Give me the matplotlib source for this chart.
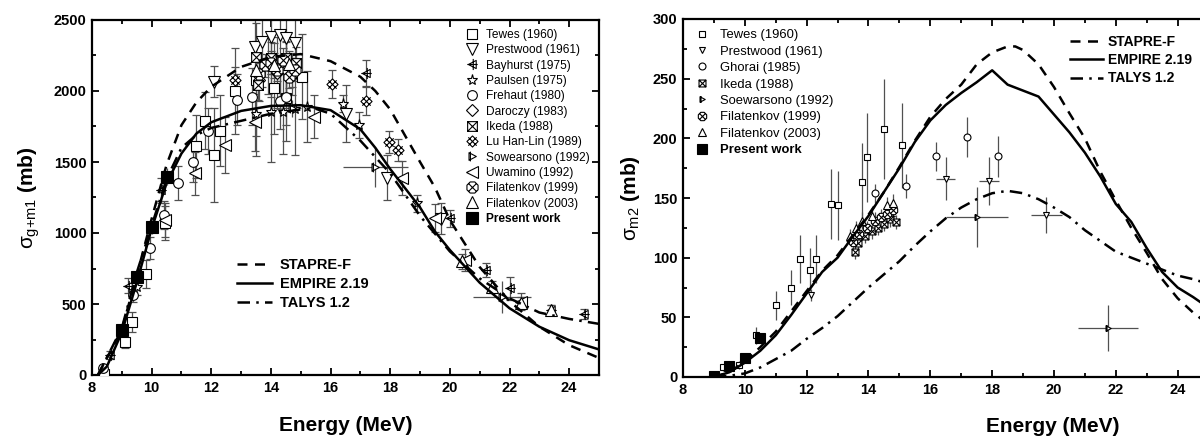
import numpy as np
import matplotlib
matplotlib.use("Agg")
import matplotlib.pyplot as plt
from matplotlib.path import Path
from matplotlib.lines import Line2D
from matplotlib.ticker import MultipleLocator

plt.rcParams['font.family'] = ['Liberation Sans', 'DejaVu Sans']
plt.rcParams['mathtext.fontset'] = 'custom'
plt.rcParams['mathtext.rm'] = 'Liberation Sans'
plt.rcParams['mathtext.it'] = 'Liberation Sans'

# ---------------- (n,2n) g+m1 cross section: model curves ----------------
gm_stapre_e = [8.2, 9.0, 9.5, 10.0, 10.5, 11.0, 11.5, 12.0, 13.0, 14.0, 15.0, 16.0, 17.0, 17.5,
               18.0, 19.0, 19.5, 20.0, 21.0, 22.0, 23.0, 24.0, 25.0]
gm_stapre_s = [0, 320, 700, 1100, 1480, 1760, 1920, 2030, 2170, 2240, 2260, 2210, 2100, 2000,
               1870, 1500, 1320, 1090, 760, 520, 340, 210, 120]
gm_empire_e = [8.2, 8.5, 9.0, 9.5, 10.0, 10.5, 11.0, 11.5, 12.0, 13.0, 14.0, 15.0, 16.0, 17.0,
               17.5, 18.0, 19.0, 19.5, 20.0, 21.0, 22.0, 23.0, 24.0, 25.0]
gm_empire_s = [0, 60, 300, 650, 1030, 1350, 1560, 1700, 1780, 1860, 1895, 1900, 1865, 1730,
               1600, 1450, 1180, 1010, 880, 650, 470, 340, 245, 180]
gm_talys_e = [8.2, 9.0, 9.5, 10.0, 10.5, 11.0, 11.5, 12.0, 13.0, 14.0, 15.0, 15.5, 16.0, 17.0,
              18.0, 19.0, 20.0, 21.0, 22.0, 23.0, 24.0, 25.0]
gm_talys_s = [0, 330, 720, 1050, 1380, 1600, 1690, 1740, 1790, 1840, 1870, 1875, 1840, 1650,
              1420, 1120, 870, 680, 540, 440, 395, 360]

# ---------------- g+m1 experimental data (E, sigma, dsigma) ----------------
tewes_e = [8.4, 9.1, 9.35, 9.8, 10.45, 11.5, 11.8, 12.1, 12.3, 12.8, 13.5, 14.1, 14.5, 15.05]
tewes_s = [5, 230, 375, 710, 1070, 1610, 1790, 1550, 1720, 2000, 2080, 2020, 1950, 2100]
tewes_d = [20, 40, 70, 100, 120, 220, 200, 330, 250, 300, 400, 320, 300, 300]

prest_e = [12.1, 13.45, 13.7, 14.0, 14.3, 14.5, 14.8, 16.5, 17.9, 19.7]
prest_s = [2065, 2310, 2345, 2380, 2395, 2370, 2335, 1840, 1390, 1100]
prest_d = [110, 200, 320, 420, 520, 400, 250, 200, 160, 110]

bayh_e = [8.6, 9.2, 10.3, 17.2, 20.0, 21.2, 22.0, 23.4, 24.5]
bayh_s = [140, 630, 1300, 2125, 1105, 740, 610, 455, 430]
bayh_d = [30, 50, 90, 90, 60, 50, 80, 35, 35]

pauls_e = [9.5, 13.5, 14.0, 14.4, 14.8, 15.2, 16.4, 16.96, 18.9]
pauls_s = [620, 1840, 1850, 1855, 1870, 1890, 1910, 1760, 1210]
pauls_d = [60, 300, 350, 300, 320, 250, 60, 90, 60]

freh_e = [8.37, 9.37, 9.95, 10.4, 10.9, 11.4, 11.9, 12.85, 13.35, 14.3, 14.5]
freh_s = [50, 563, 895, 1127, 1352, 1500, 1718, 1940, 1960, 1930, 1960]
freh_d = [20, 50, 80, 100, 120, 140, 160, 180, 200, 200, 200]

daro_e = [13.6, 13.9, 14.2, 14.5, 14.7]
daro_s = [2080, 2180, 2130, 2150, 2120]
daro_d = [150, 200, 250, 200, 150]

ikeda_e = [13.5, 13.55, 14.0, 14.5, 14.7, 14.85]
ikeda_s = [2240, 2040, 2232, 2232, 2130, 2200]
ikeda_d = [110, 100, 110, 110, 100, 110]

luhl_e = [12.8, 16.05, 17.2, 17.95, 18.25]
luhl_s = [2080, 2050, 1930, 1640, 1585]
luhl_d = [90, 100, 100, 80, 80]

soew_e = [14.7, 17.5, 21.75]
soew_s = [1880, 1465, 549]
soew_d = [60, 140, 110]
soew_de = [0.3, 1.1, 0.97]

uwam_e = [10.45, 11.45, 12.45, 13.45, 15.45, 18.4, 19.5, 20.5, 22.4]
uwam_s = [1090, 1420, 1620, 1780, 1820, 1390, 1105, 810, 515]
uwam_d = [120, 150, 200, 200, 150, 120, 100, 80, 60]

fil99_e = [13.6, 13.8, 14.0, 14.2, 14.4, 14.6, 14.8]
fil99_s = [2120, 2180, 2200, 2150, 2220, 2100, 2150]
fil99_d = [80, 80, 80, 80, 80, 80, 80]

fil03_e = [13.5, 14.1, 14.6, 20.4, 21.4, 22.4, 23.4]
fil03_s = [2150, 2180, 2190, 800, 620, 510, 460]
fil03_d = [90, 90, 90, 50, 40, 40, 30]

pres_e = [9.0, 9.5, 10.0, 10.5]
pres_s = [320, 690, 1045, 1395]
pres_d = [25, 40, 50, 60]

# ---------------- m2 cross section: model curves ----------------
m2_stapre_e = [9.0, 9.5, 10.0, 10.5, 11.0, 11.5, 12.0, 12.5, 13.0, 13.5, 14.0, 14.5, 15.0, 15.5,
               16.0, 16.5, 17.0, 17.5, 18.0, 18.5, 18.75, 19.0, 19.5, 20.0, 20.5, 21.0, 21.5,
               22.0, 22.5, 23.0, 23.5, 24.0, 24.5, 25.0, 25.5]
m2_stapre_s = [0, 4, 13, 25, 38, 55, 72, 89, 102, 119, 136, 155, 176, 198,
               218, 233, 245, 262, 272, 277, 277, 274, 262, 243, 221, 200, 172,
               148, 125, 104, 82, 66, 54, 44, 36]
m2_empire_e = [9.0, 9.5, 10.0, 10.5, 11.0, 11.5, 12.0, 12.5, 13.0, 13.5, 14.0, 14.5, 15.0, 15.5,
               16.0, 16.5, 17.0, 17.5, 18.0, 18.5, 19.0, 19.5, 20.0, 20.5, 21.0, 21.5, 22.0,
               22.5, 23.0, 23.5, 24.0, 24.5, 25.0, 25.5]
m2_empire_s = [0, 4, 12, 22, 35, 52, 70, 88, 100, 118, 135, 155, 175, 197,
               215, 228, 238, 247, 257, 245, 240, 235, 220, 205, 188, 168, 145,
               130, 108, 88, 75, 67, 58, 50]
m2_talys_e = [9.0, 9.5, 10.0, 10.5, 11.0, 11.5, 12.0, 12.5, 13.0, 13.5, 14.0, 14.5, 15.0, 15.5,
              16.0, 16.5, 17.0, 17.5, 18.0, 18.5, 19.0, 19.5, 20.0, 20.5, 21.0, 21.5, 22.0,
              22.5, 23.0, 23.5, 24.0, 24.5, 25.0, 25.5]
m2_talys_s = [0, 1, 3, 8, 15, 22, 32, 41, 51, 63, 75, 86, 97, 110,
              122, 133, 142, 149, 154, 156, 154, 149, 142, 134, 123, 114, 105,
              100, 95, 90, 85, 82, 78, 75]

# ---------------- m2 experimental data ----------------
m2_tewes_e = [9.3, 9.8, 10.35, 11.0, 11.5, 11.8, 12.1, 12.3, 12.8, 13.0, 13.8, 13.95, 14.5, 15.1]
m2_tewes_s = [8, 10, 35, 60, 75, 99, 90, 99, 145, 144, 163, 184, 208, 194]
m2_tewes_d = [3, 3, 7, 12, 15, 20, 18, 20, 29, 29, 33, 37, 42, 36]

m2_prest_e = [12.15, 16.5, 17.9, 19.75]
m2_prest_s = [69, 166, 164, 136]
m2_prest_d = [5, 18, 20, 15]
m2_prest_de = [0.0, 0.3, 0.33, 0.5]

m2_ghorai_e = [14.2, 15.2, 16.2, 17.2, 18.2]
m2_ghorai_s = [154, 160, 185, 201, 185]
m2_ghorai_d = [8, 10, 12, 17, 17]

m2_ikeda_e = [13.55, 13.65, 13.9, 14.1, 14.3, 14.5, 14.7, 14.9]
m2_ikeda_s = [105, 112, 118, 122, 125, 128, 132, 130]
m2_ikeda_d = [6, 6, 6, 6, 6, 6, 6, 6]

m2_soew_e = [14.6, 17.5, 21.75]
m2_soew_s = [135, 134, 41]
m2_soew_d = [8, 25, 19]
m2_soew_de = [0.3, 1.0, 0.97]

m2_fil99_e = [13.5, 13.7, 13.95, 14.2, 14.4, 14.6, 14.8]
m2_fil99_s = [113, 120, 125, 131, 134, 137, 140]
m2_fil99_d = [6, 6, 6, 7, 7, 7, 7]

m2_fil03_e = [13.4, 13.6, 13.8, 14.1, 14.6, 14.8]
m2_fil03_s = [118, 125, 131, 135, 144, 146]
m2_fil03_d = [6, 6, 7, 7, 7, 7]

m2_pres_e = [9.0, 9.5, 10.0, 10.5]
m2_pres_s = [1, 9, 16, 33]
m2_pres_d = [1, 1, 2, 3]


# ---------------- custom marker shapes ----------------
def compound(*parts):
    return Path.make_compound_path(*parts)


def poly(pts, closed=True):
    pts = list(pts)
    if closed:
        verts = pts + [pts[0]]
        codes = [Path.MOVETO] + [Path.LINETO] * (len(pts) - 1) + [Path.CLOSEPOLY]
    else:
        verts = pts
        codes = [Path.MOVETO] + [Path.LINETO] * (len(pts) - 1)
    return Path(verts, codes)


tri_left = poly([(0.5, 0.55), (-0.55, 0.0), (0.5, -0.55)])
tri_right = poly([(-0.5, 0.55), (0.55, 0.0), (-0.5, -0.55)])
mk_bayhurst = compound(tri_left, poly([(0.1, 0.75), (0.1, -0.75)], False),
                       poly([(-0.7, 0.0), (0.7, 0.0)], False))
mk_soew = compound(tri_right, poly([(-0.3, 0.7), (-0.3, -0.7)], False))
diamond = poly([(0, 0.6), (0.6, 0), (0, -0.6), (-0.6, 0)])
mk_luhl = compound(diamond, poly([(-0.45, 0.45), (0.45, -0.45)], False),
                   poly([(-0.45, -0.45), (0.45, 0.45)], False))
square = poly([(-0.5, -0.5), (0.5, -0.5), (0.5, 0.5), (-0.5, 0.5)])
mk_ikeda = compound(square, poly([(-0.5, -0.5), (0.5, 0.5)], False),
                    poly([(-0.5, 0.5), (0.5, -0.5)], False))
octa = poly([(0.5 * np.cos(a), 0.5 * np.sin(a)) for a in np.linspace(0, 2 * np.pi, 9)[:-1] + np.pi / 8])
mk_fil99 = compound(octa, poly([(-0.35, -0.35), (0.35, 0.35)], False),
                    poly([(-0.35, 0.35), (0.35, -0.35)], False))

ERR_COLOR = '#505050'


def data_series(ax, e, s, d, marker, ms, xerr=None, filled=False, capsize=3, zorder=3):
    ax.errorbar(e, s, yerr=d, xerr=xerr, fmt='none', ecolor=ERR_COLOR, elinewidth=0.9,
                capsize=capsize, capthick=0.9, zorder=zorder - 1)
    ax.plot(e, s, linestyle='none', marker=marker, markersize=ms,
            markerfacecolor='black' if filled else 'white', markeredgecolor='black',
            markeredgewidth=0.8, zorder=zorder)
    return Line2D([], [], linestyle='none', marker=marker, markersize=ms,
                  markerfacecolor='black' if filled else 'white', markeredgecolor='black',
                  markeredgewidth=0.8)


def style_axes(ax, ymajor, yminor):
    ax.xaxis.set_major_locator(MultipleLocator(2))
    ax.xaxis.set_minor_locator(MultipleLocator(1))
    ax.yaxis.set_major_locator(MultipleLocator(ymajor))
    ax.yaxis.set_minor_locator(MultipleLocator(yminor))
    ax.tick_params(which='both', direction='in', top=True, right=True, width=1.3)
    ax.tick_params(which='major', length=5, labelsize=10.5, pad=4)
    ax.tick_params(which='minor', length=3)
    for lab in ax.get_xticklabels() + ax.get_yticklabels():
        lab.set_fontweight('bold')
    for sp in ax.spines.values():
        sp.set_linewidth(1.6)


fig = plt.figure(figsize=(12, 4.37), dpi=100)

# ================= left panel: g+m1 =================
axL = fig.add_axes([92 / 1200, 1 - 375 / 437, 507 / 1200, 355 / 437])
axL.set_xlim(8, 25)
axL.set_ylim(0, 2500)

l_st, = axL.plot(gm_stapre_e, gm_stapre_s, color='black', lw=1.8, ls=(0, (4, 3)), zorder=5)
l_em, = axL.plot(gm_empire_e, gm_empire_s, color='black', lw=1.8, ls='-', zorder=5)
l_ta, = axL.plot(gm_talys_e, gm_talys_s, color='black', lw=1.8, ls=(0, (5, 2.5, 1, 2.5)), zorder=5)

msL = 7
hL = [
    data_series(axL, tewes_e, tewes_s, tewes_d, 's', msL),
    data_series(axL, prest_e, prest_s, prest_d, 'v', msL + 1),
    data_series(axL, bayh_e, bayh_s, bayh_d, mk_bayhurst, msL + 1),
    data_series(axL, pauls_e, pauls_s, pauls_d, '*', msL + 1),
    data_series(axL, freh_e, freh_s, freh_d, 'o', msL),
    data_series(axL, daro_e, daro_s, daro_d, 'D', msL - 1),
    data_series(axL, ikeda_e, ikeda_s, ikeda_d, mk_ikeda, msL),
    data_series(axL, luhl_e, luhl_s, luhl_d, mk_luhl, msL + 1),
    data_series(axL, soew_e, soew_s, soew_d, mk_soew, msL, xerr=soew_de, capsize=0),
    data_series(axL, uwam_e, uwam_s, uwam_d, '<', msL + 1),
    data_series(axL, fil99_e, fil99_s, fil99_d, mk_fil99, msL + 1),
    data_series(axL, fil03_e, fil03_s, fil03_d, '^', msL + 1),
    data_series(axL, pres_e, pres_s, pres_d, 's', msL + 1, filled=True, capsize=0, zorder=6),
]
labelsL = ['Tewes (1960)', 'Prestwood (1961)', 'Bayhurst (1975)', 'Paulsen (1975)', 'Frehaut (1980)',
           'Daroczy (1983)', 'Ikeda (1988)', 'Lu Han-Lin (1989)', 'Sowearsono (1992)',
           'Uwamino (1992)', 'Filatenkov (1999)', 'Filatenkov (2003)', 'Present work']

legL = axL.legend(hL, labelsL, loc='upper left', bbox_to_anchor=(0.735, 0.975), frameon=False,
                  fontsize=8.6, labelspacing=0.28, handletextpad=0.6, handlelength=1.2,
                  borderpad=0, borderaxespad=0)
legL.get_texts()[-1].set_fontweight('bold')
axL.add_artist(legL)
axL.legend([l_st, l_em, l_ta], ['STAPRE-F', 'EMPIRE 2.19', 'TALYS 1.2'], loc='upper left',
           bbox_to_anchor=(0.286, 0.33), frameon=False, handlelength=2.4,
           handletextpad=0.55, labelspacing=0.35, borderpad=0, borderaxespad=0,
           prop={'weight': 'bold', 'size': 10.5})

style_axes(axL, 500, 250)
axL.set_xlabel('Energy (MeV)', fontsize=15, fontweight='bold')
axL.xaxis.set_label_coords(0.5, -0.115)
axL.set_ylabel(r'$\sigma_{\mathrm{g{+}m1}}$ (mb)', fontsize=15, fontweight='bold', labelpad=8)

# ================= right panel: m2 =================
axR = fig.add_axes([683 / 1200, 1 - 377 / 437, 541 / 1200, 358 / 437])
axR.set_xlim(8, 25.5)
axR.set_ylim(0, 300)

r_st, = axR.plot(m2_stapre_e, m2_stapre_s, color='black', lw=1.8, ls=(0, (4, 3)), zorder=5)
r_em, = axR.plot(m2_empire_e, m2_empire_s, color='black', lw=1.8, ls='-', zorder=5)
r_ta, = axR.plot(m2_talys_e, m2_talys_s, color='black', lw=1.8, ls=(0, (5, 2.5, 1, 2.5)), zorder=5)

msR = 5
hR = [
    data_series(axR, m2_tewes_e, m2_tewes_s, m2_tewes_d, 's', msR, capsize=0),
    data_series(axR, m2_prest_e, m2_prest_s, m2_prest_d, 'v', msR, xerr=m2_prest_de, capsize=0),
    data_series(axR, m2_ghorai_e, m2_ghorai_s, m2_ghorai_d, 'o', msR, capsize=0),
    data_series(axR, m2_ikeda_e, m2_ikeda_s, m2_ikeda_d, mk_ikeda, msR, capsize=0),
    data_series(axR, m2_soew_e, m2_soew_s, m2_soew_d, mk_soew, msR, xerr=m2_soew_de, capsize=0),
    data_series(axR, m2_fil99_e, m2_fil99_s, m2_fil99_d, mk_fil99, msR + 1, capsize=0),
    data_series(axR, m2_fil03_e, m2_fil03_s, m2_fil03_d, '^', msR + 1, capsize=0),
    data_series(axR, m2_pres_e, m2_pres_s, m2_pres_d, 's', msR + 2, filled=True, capsize=0, zorder=6),
]
labelsR = ['Tewes (1960)', 'Prestwood (1961)', 'Ghorai (1985)', 'Ikeda (1988)', 'Soewarsono (1992)',
           'Filatenkov (1999)', 'Filatenkov (2003)', 'Present work']
legR = axR.legend(hR, labelsR, loc='upper left', bbox_to_anchor=(0.02, 0.972), frameon=False,
                  fontsize=9.4, labelspacing=0.33, handletextpad=0.8, handlelength=1.2,
                  borderpad=0, borderaxespad=0)
legR.get_texts()[-1].set_fontweight('bold')
axR.add_artist(legR)
axR.legend([r_st, r_em, r_ta], ['STAPRE-F', 'EMPIRE 2.19', 'TALYS 1.2'], loc='upper left',
           bbox_to_anchor=(0.715, 0.955), frameon=False, handlelength=2.4,
           handletextpad=0.35, labelspacing=0.3, borderpad=0, borderaxespad=0,
           prop={'weight': 'bold', 'size': 10})

style_axes(axR, 50, 25)
axR.set_xlabel('Energy (MeV)', fontsize=15, fontweight='bold')
axR.xaxis.set_label_coords((1053 - 683) / 541, -0.112)
axR.set_ylabel(r'$\sigma_{\mathrm{m2}}$ (mb)', fontsize=15, fontweight='bold', labelpad=8)

fig.savefig('out.png', dpi=100)
